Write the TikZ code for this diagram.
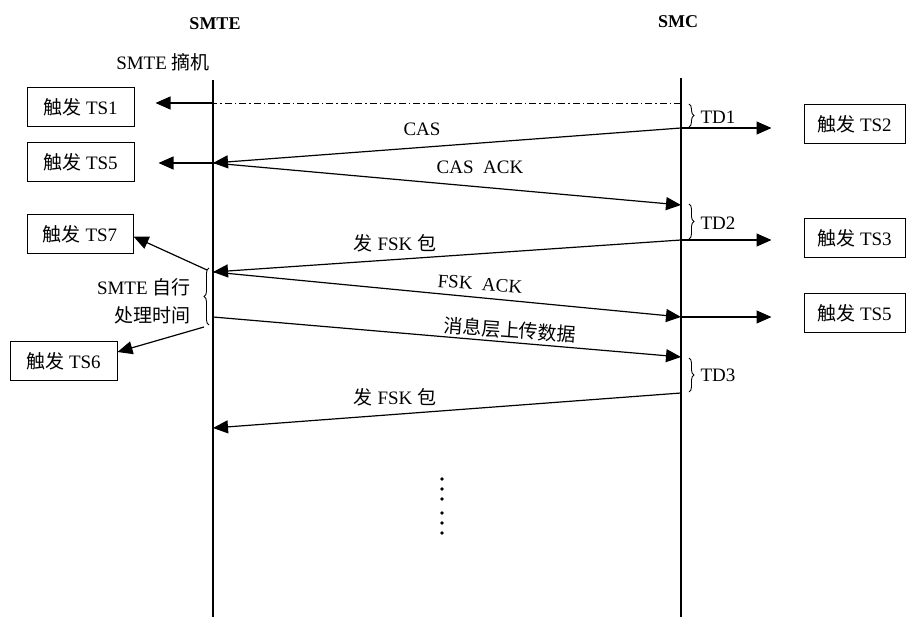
\documentclass[tikz,border=0pt]{standalone}
\usepackage{fontspec}
\setmainfont{Liberation Serif}
\newfontfamily\cjk{Noto Sans CJK SC}
\usetikzlibrary{arrows.meta,decorations.pathreplacing}
\newcommand{\zh}[1]{{\cjk #1}}

\begin{document}
\begin{tikzpicture}[x=1pt,y=-1pt,
    every node/.style={font=\fontsize{19}{21}\selectfont},
    box/.style={draw,line width=1pt,minimum height=39pt,inner sep=0pt},
    msg/.style={line width=1.2pt,-{Triangle[length=15pt,width=13pt]}},
    brc/.style={decorate,decoration={brace,amplitude=5pt},line width=0.9pt}]
    \useasboundingbox (0,0) rectangle (906,617);
    % lifelines
    \coordinate (te0) at (213,80); \coordinate (te1) at (213,617);
    \coordinate (sc0) at (681,78); \coordinate (sc1) at (681,617);
    \draw[line width=1.3pt] (te0) -- (te1);
    \draw[line width=1.3pt] (sc0) -- (sc1);
    \node[font=\fontsize{18}{20}\selectfont\bfseries] (smte) at (215,24) {SMTE};
    \node[font=\fontsize{18}{20}\selectfont\bfseries] (smc) at (678,22) {SMC};
    \node (hook) at (163,62) {SMTE \zh{摘机}};
    % trigger boxes
    \node[box,minimum width=107pt] (ts1) at (80.5,107) {\zh{触发} TS1};
    \node[box,minimum width=107pt] (ts5a) at (80.5,162) {\zh{触发} TS5};
    \node[box,minimum width=106pt] (ts7) at (80,234.5) {\zh{触发} TS7};
    \node[box,minimum width=107pt] (ts6) at (63.5,361) {\zh{触发} TS6};
    \node[box,minimum width=101pt] (ts2) at (854.5,124) {\zh{触发} TS2};
    \node[box,minimum width=101pt] (ts3) at (854.5,238) {\zh{触发} TS3};
    \node[box,minimum width=101pt] (ts5b) at (854.5,313.5) {\zh{触发} TS5};
    % points on the lifelines
    \coordinate (a1) at (213,103); \coordinate (a2) at (681,103);
    \coordinate (b) at (681,128); \coordinate (c) at (213,163);
    \coordinate (d) at (681,205);
    \coordinate (e) at (681,240); \coordinate (f) at (213,272);
    \coordinate (g) at (681,317); \coordinate (h) at (213,317);
    \coordinate (i) at (681,357);
    \coordinate (j) at (681,393); \coordinate (k) at (213,428);
    \coordinate (p7) at (207,270); \coordinate (p6) at (204,327);
    % messages
    \draw[line width=0.9pt,dash pattern=on 7pt off 3pt on 1.5pt off 3pt] (a2) -- (a1);
    \draw[msg,shorten >=21pt] (a1) -- (a1 -| ts1.east);
    \draw[msg] (b) -- (c);
    \draw[msg,shorten >=24pt] (c) -- (c -| ts5a.east);
    \draw[msg] (c) -- (d);
    \draw[msg] (e) -- (f);
    \draw[msg] (f) -- (g);
    \draw[msg] (h) -- (i);
    \draw[msg] (j) -- (k);
    \draw[msg] (p7) -- ([yshift=-2pt]ts7.east);
    \draw[msg] (p6) -- ([yshift=9pt]ts6.east);
    \draw[msg,shorten >=32pt] (b) -- (b -| ts2.west);
    \draw[msg,shorten >=32pt] (e) -- (e -| ts3.west);
    \draw[msg,shorten >=32pt] (g) -- (g -| ts5b.west);
    \node (lcas) at (422,129) {CAS};
    \node (lack) at (480,167) {CAS\ \ ACK};
    \node (lf1) at (395,243) {\zh{发} FSK \zh{包}};
    \node[rotate=-4] (lfa) at (480,284) {FSK\ \ ACK};
    \node[rotate=-4] (lup) at (510,330) {\zh{消息层上传数据}};
    \node (lf2) at (395,397) {\zh{发} FSK \zh{包}};
    % time intervals
    \draw[brc] (689,104) -- (689,127);
    \draw[brc] (689,204) -- (689,239);
    \draw[brc] (689,358) -- (689,392);
    \node[anchor=west] (td1) at (697,117) {TD1};
    \node[anchor=west] (td2) at (697,223) {TD2};
    \node[anchor=west] (td3) at (697,375) {TD3};
    \draw[brc] (209,325) -- (209,268);
    \node[align=right,anchor=east,font=\fontsize{19}{28}\selectfont] (proc) at (194,301) {SMTE \zh{自行}\\\zh{处理时间}};
    % more messages follow
    \foreach \y in {479,489,499,513,523,533}
        \fill (442,\y) circle (1.8);
\end{tikzpicture}
\end{document}
